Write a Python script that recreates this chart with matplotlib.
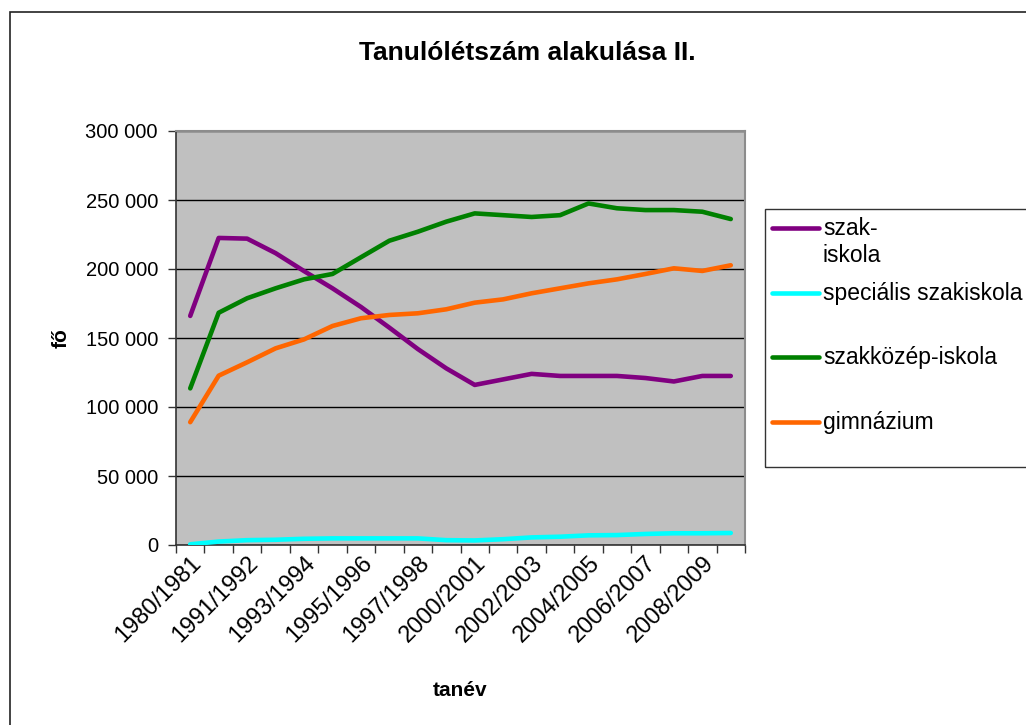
import matplotlib
matplotlib.use("Agg")
import matplotlib.pyplot as plt
from matplotlib.lines import Line2D
from matplotlib.patches import Rectangle
from matplotlib.ticker import FuncFormatter
import numpy as np

plt.rcParams['font.family'] = ['Liberation Sans', 'DejaVu Sans']

# Tanévek (minden második címke látszik a tengelyen)
tanevek = ["1980/1981", "1990/1991", "1991/1992", "1992/1993", "1993/1994",
           "1994/1995", "1995/1996", "1996/1997", "1997/1998", "1998/1999",
           "2000/2001", "2001/2002", "2002/2003", "2003/2004", "2004/2005",
           "2005/2006", "2006/2007", "2007/2008", "2008/2009", "2009/2010"]

# Tanulólétszámok (fő)
szakiskola = [166000, 222500, 222000, 211500, 198500, 186000, 172500, 157500,
              142000, 128000, 116000, 120000, 124000, 122500, 122500, 122500,
              121000, 118500, 122500, 122500]
specialis = [500, 2500, 3500, 3800, 4500, 4800, 4800, 4800, 4800, 3500,
             3300, 4200, 5500, 6000, 7000, 7200, 8000, 8500, 8500, 8700]
szakkozep = [113500, 168300, 178800, 186000, 192500, 196400, 208500, 220500,
             227000, 234300, 240300, 239000, 237700, 239000, 247500, 244000,
             242700, 242700, 241500, 236200]
gimnazium = [89000, 122700, 132400, 142500, 149000, 158700, 164300, 166700,
             167900, 170800, 175600, 178000, 182400, 186000, 189600, 192500,
             196400, 200500, 198600, 202700]

sorozatok = [("szak-\niskola", szakiskola, "#800080"),
             ("speciális szakiskola", specialis, "#00FFFF"),
             ("szakközép-iskola", szakkozep, "#008000"),
             ("gimnázium", gimnazium, "#FF6600")]

W, H = 1026, 725
fig = plt.figure(figsize=(W / 100, H / 100), dpi=100)


def px(x, y):
    # pixel -> figure koordináta
    return x / W, 1 - y / H


# külső keret
fig.add_artist(Rectangle(px(10, 800), 1100 / W, 788 / H, transform=fig.transFigure,
                         fill=False, edgecolor="#222222", linewidth=1.2))

ax = fig.add_axes([176 / W, 1 - 545 / H, 569 / W, 414 / H])
ax.set_facecolor("#C0C0C0")

x = np.arange(len(tanevek))
for nev, ertek, szin in sorozatok:
    ax.plot(x, ertek, color=szin, linewidth=3.3, solid_capstyle="round",
            solid_joinstyle="round", zorder=3)

ax.set_xlim(-0.5, len(tanevek) - 0.5)
ax.set_ylim(0, 300000)
ax.set_yticks(np.arange(0, 300001, 50000))
ax.yaxis.set_major_formatter(FuncFormatter(lambda v, p: f"{int(v):,}".replace(",", " ")))
ax.yaxis.grid(True, color="black", linewidth=1.0)
ax.set_axisbelow(True)

ax.set_xticks(np.arange(-0.5, len(tanevek)), labels=[])
ax.set_xticks(x[::2], labels=tanevek[::2], minor=True)
ax.tick_params(axis="x", which="major", direction="out", length=6, width=1, color="#333333")
ax.tick_params(axis="x", which="minor", length=0, pad=5)
ax.tick_params(axis="y", direction="out", length=6, width=1, color="#333333", pad=7)
for lbl in ax.get_xticklabels(minor=True):
    lbl.set_rotation(45)
    lbl.set_ha("right")
    lbl.set_va("top")
    lbl.set_rotation_mode("anchor")
    lbl.set_fontsize(17)
for lbl in ax.get_yticklabels():
    lbl.set_fontsize(14.5)

for s in ["left", "bottom"]:
    ax.spines[s].set_color("#333333")
    ax.spines[s].set_linewidth(1.2)
for s in ["top", "right"]:
    ax.spines[s].set_color("#8c8c8c")
    ax.spines[s].set_linewidth(1.5)

fig.text(*px(527, 53), "Tanulólétszám alakulása II.", ha="center", va="center",
         fontsize=19, fontweight="bold")
fig.text(*px(61, 338), "fő", ha="center", va="center", rotation=90,
         fontsize=15, fontweight="bold")
fig.text(*px(460, 690), "tanév", ha="center", va="center",
         fontsize=15, fontweight="bold")

# jelmagyarázat
fig.add_artist(Rectangle(px(765, 467), 300 / W, 258 / H, transform=fig.transFigure,
                         fill=False, edgecolor="#333333", linewidth=1.0))
leg_y = [228, 293, 357, 422]
for (nev, ertek, szin), yy in zip(sorozatok, leg_y):
    fig.add_artist(Line2D([772 / W, 819 / W], [1 - yy / H, 1 - yy / H],
                          transform=fig.transFigure, color=szin, linewidth=3.3,
                          solid_capstyle="round"))
    fig.text(823 / W, 1 - (yy - 11) / H, nev, ha="left", va="top",
             fontsize=16.5, linespacing=1.2)

fig.savefig("out.png", dpi=100)
